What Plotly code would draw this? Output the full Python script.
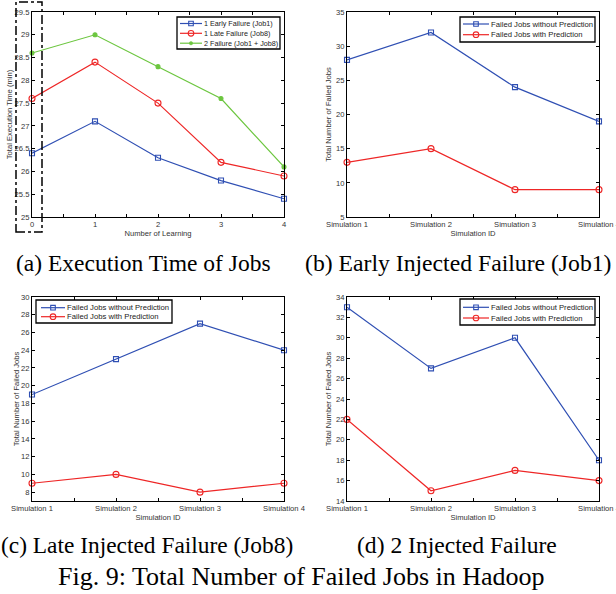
import plotly.graph_objects as go

# ---------------- data ----------------
learn_x = [0, 1, 2, 3, 4]
early_fail = [26.4, 27.1, 26.3, 25.8, 25.4]
late_fail = [27.6, 28.4, 27.5, 26.2, 25.9]
two_fail = [28.6, 29.0, 28.3, 27.6, 26.1]

sim_x = [1, 2, 3, 4]
sim_labels = ["Simulation 1", "Simulation 2", "Simulation 3", "Simulation 4"]

b_without = [28, 32, 24, 19]
b_with = [13, 15, 9, 9]
c_without = [19, 23, 27, 24]
c_with = [9, 10, 8, 9]
d_without = [33, 27, 30, 18]
d_with = [22, 15, 17, 16]

captions = ["(a) Execution Time of Jobs", "(b) Early Injected Failure (Job1)",
            "(c) Late Injected Failure (Job8)", "(d) 2 Injected Failure"]
fig_caption = "Fig. 9: Total Number of Failed Jobs in Hadoop"

# ---------------- style ----------------
W, H = 616, 594
BLUE = "#2f4fb3"
RED = "#ee2626"
GREEN = "#6cc63f"
SANS = "Liberation Sans"
SERIF = "Liberation Serif"
FS = 7.6

# panel pixel boxes: (left, right, top, bottom)
boxes = {
    1: (32, 284, 12, 217),
    2: (347, 599, 12, 217),
    3: (32, 284, 297, 501),
    4: (347, 599, 297, 501),
}


def px(x):
    return x / W


def py(y):
    return 1 - y / H


fig = go.Figure()


def add_line(k, x, y, color, symbol, size, name):
    fig.add_trace(go.Scatter(
        x=x, y=y, mode="lines+markers", name=name, showlegend=False,
        xaxis="x" if k == 1 else f"x{k}", yaxis="y" if k == 1 else f"y{k}",
        line=dict(color=color, width=1.2),
        marker=dict(symbol=symbol, size=size, color=color,
                    line=dict(color=color, width=1.1)),
        cliponaxis=False,
    ))


add_line(1, learn_x, early_fail, BLUE, "square-open", 5, "1 Early Failure (Job1)")
add_line(1, learn_x, late_fail, RED, "circle-open", 6, "1 Late Failure (Job8)")
add_line(1, learn_x, two_fail, GREEN, "circle", 4, "2 Failure (Job1 + Job8)")
for k, (wo, wi) in zip([2, 3, 4], [(b_without, b_with), (c_without, c_with), (d_without, d_with)]):
    add_line(k, sim_x, wo, BLUE, "square-open", 5, "Failed Jobs without Prediction")
    add_line(k, sim_x, wi, RED, "circle-open", 6, "Failed Jobs with Prediction")

axis_common = dict(
    showline=True, linecolor="black", linewidth=1.2, mirror="ticks",
    ticks="inside", ticklen=3, tickwidth=1, tickcolor="black",
    showgrid=False, zeroline=False, automargin=False,
    ticklabeloverflow="allow",
    tickfont=dict(size=FS, color="#333", family=SANS),
    title_font=dict(size=FS, color="#333", family=SANS),
)
minor_x = dict(ticks="inside", dtick=0.5, ticklen=3, tickcolor="black", showgrid=False)

yranges = {1: [25, 29.5], 2: [5, 35], 3: [7, 30], 4: [14, 34]}
ydticks = {1: 0.5, 2: 5, 3: 2, 4: 2}
ystandoff = {1: 0, 2: 3, 3: 0, 4: 3}
ytitles = {1: "Total Execution Time (min)", 2: "Total Number of Failed Jobs",
           3: "Total Number of Failed Jobs", 4: "Total Number of Failed Jobs"}
layout = {}
for k, (L, R, T, B) in boxes.items():
    xs = "xaxis" if k == 1 else f"xaxis{k}"
    ys = "yaxis" if k == 1 else f"yaxis{k}"
    xa = dict(axis_common, domain=[px(L), px(R)], anchor="y" if k == 1 else f"y{k}",
              minor=minor_x)
    if k == 1:
        xa.update(range=[0, 4], tickvals=learn_x, title=dict(text="Number of Learning", standoff=2))
    else:
        xa.update(range=[1, 4], tickvals=sim_x, ticktext=sim_labels,
                  title=dict(text="Simulation ID", standoff=2))
    ya = dict(axis_common, domain=[py(B), py(T)], anchor="x" if k == 1 else f"x{k}",
              range=yranges[k], tick0=0, dtick=ydticks[k],
              title=dict(text=ytitles[k], standoff=ystandoff[k]))
    layout[xs] = xa
    layout[ys] = ya

fig.update_layout(**layout)

shapes = []
annotations = []


def add_legend(box, rows, fsize):
    x0, y0, x1, y1 = box
    shapes.append(dict(type="rect", xref="paper", yref="paper",
                       x0=px(x0), x1=px(x1), y0=py(y0), y1=py(y1),
                       line=dict(color="black", width=1.3), fillcolor="white", layer="above"))
    for (ly, lx0, lx1, tx, color, sym, name) in rows:
        shapes.append(dict(type="line", xref="paper", yref="paper",
                           x0=px(lx0), x1=px(lx1), y0=py(ly), y1=py(ly),
                           line=dict(color=color, width=1.2), layer="above"))
        mx = (lx0 + lx1) / 2
        if sym == "square":
            r = 2.3
            shapes.append(dict(type="rect", xref="paper", yref="paper",
                               x0=px(mx - r), x1=px(mx + r), y0=py(ly - r), y1=py(ly + r),
                               line=dict(color=color, width=1.1), layer="above"))
        elif sym == "circle":
            r = 2.8
            shapes.append(dict(type="circle", xref="paper", yref="paper",
                               x0=px(mx - r), x1=px(mx + r), y0=py(ly - r), y1=py(ly + r),
                               line=dict(color=color, width=1.1), layer="above"))
        else:
            r = 1.7
            shapes.append(dict(type="circle", xref="paper", yref="paper",
                               x0=px(mx - r), x1=px(mx + r), y0=py(ly - r), y1=py(ly + r),
                               fillcolor=color, line=dict(color=color, width=0.5), layer="above"))
        annotations.append(dict(text=name, xref="paper", yref="paper", x=px(tx - 2), y=py(ly),
                                xanchor="left", yanchor="middle", showarrow=False,
                                font=dict(size=fsize, color="#222", family=SANS)))


add_legend((177, 17, 280, 49), [
    (23.5, 180, 202, 204, BLUE, "square", "1 Early Failure (Job1)"),
    (33.3, 180, 202, 204, RED, "circle", "1 Late Failure (Job8)"),
    (43.2, 180, 202, 204, GREEN, "dot", "2 Failure (Job1 + Job8)"),
], 7.2)
add_legend((460, 17, 595, 42), [
    (24.0, 463, 489, 491, BLUE, "square", "Failed Jobs without Prediction"),
    (34.7, 463, 489, 491, RED, "circle", "Failed Jobs with Prediction"),
], 7.7)
add_legend((36, 300, 172, 323), [
    (307.7, 41, 65, 67, BLUE, "square", "Failed Jobs without Prediction"),
    (316.7, 41, 65, 67, RED, "circle", "Failed Jobs with Prediction"),
], 7.7)
add_legend((460, 299, 595, 325), [
    (307.3, 463, 489, 491, BLUE, "square", "Failed Jobs without Prediction"),
    (318.0, 463, 489, 491, RED, "circle", "Failed Jobs with Prediction"),
], 7.7)

# dash-dot highlight box in panel (a)
shapes.append(dict(type="rect", xref="paper", yref="paper",
                   x0=px(16), x1=px(42), y0=py(232), y1=py(2),
                   line=dict(color="black", width=1.5, dash="dashdot"), layer="above"))

cap_pos = [(143, 263, 23.5), (458, 263, 23.7), (147, 545, 23.4), (457, 545, 23.6)]
for text, (cx, cy, fsz) in zip(captions, cap_pos):
    annotations.append(dict(text=text, xref="paper", yref="paper", x=px(cx), y=py(cy),
                            xanchor="center", yanchor="middle", showarrow=False,
                            font=dict(size=fsz, color="black", family=SERIF)))
annotations.append(dict(text=fig_caption, xref="paper", yref="paper", x=px(301), y=py(576),
                        xanchor="center", yanchor="middle", showarrow=False,
                        font=dict(size=26, color="black", family=SERIF)))

fig.update_layout(
    template="none",
    width=W, height=H, margin=dict(l=0, r=0, t=0, b=0, autoexpand=False),
    paper_bgcolor="white", plot_bgcolor="white",
    showlegend=False, shapes=shapes, annotations=annotations,
)
fig.update_xaxes(automargin=False)
fig.update_yaxes(automargin=False)

fig.write_html("out.html")
